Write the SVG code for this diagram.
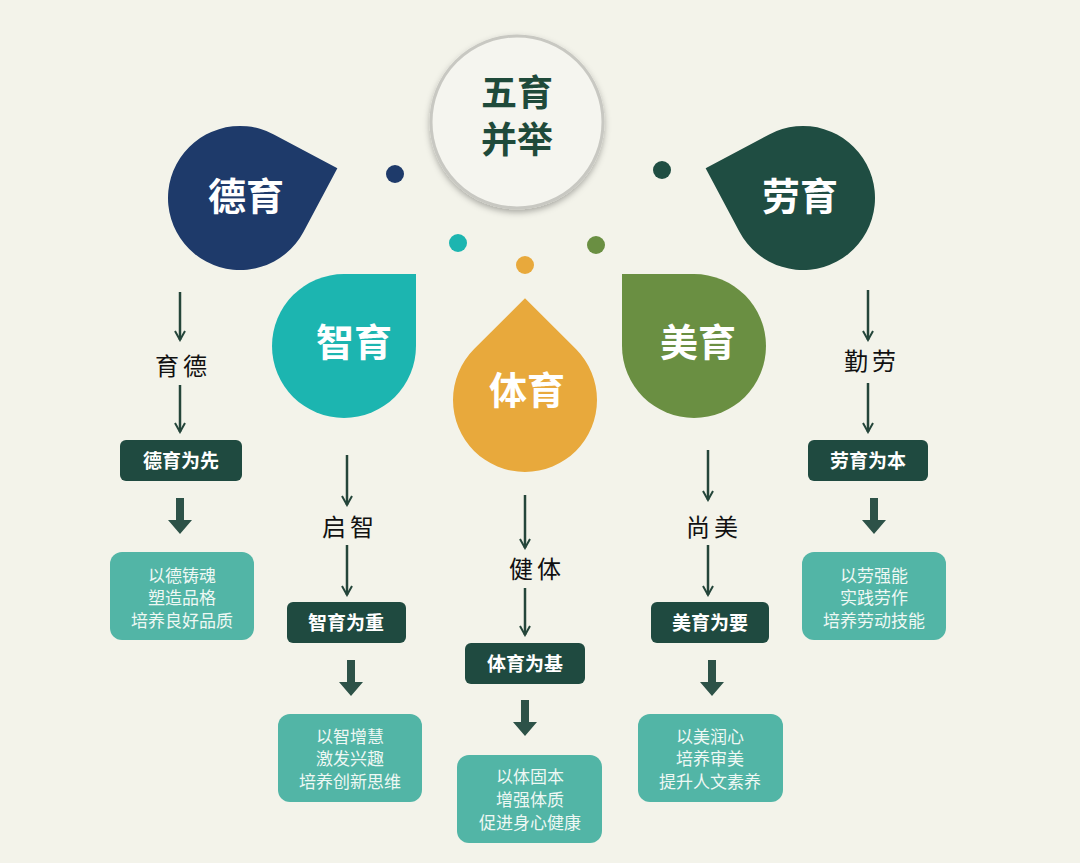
<svg xmlns="http://www.w3.org/2000/svg" width="1080" height="863" viewBox="0 0 1080 863">
<defs>
<marker id="ah" viewBox="0 0 12 12" refX="10" refY="6" markerWidth="12" markerHeight="12" markerUnits="userSpaceOnUse" orient="auto"><path d="M1,1 L10,6 L1,11" fill="none" stroke="#24453a" stroke-width="2"/></marker>
<filter id="sh" x="-20%" y="-20%" width="140%" height="140%"><feDropShadow dx="0" dy="3" stdDeviation="3" flood-color="#000" flood-opacity="0.3"/></filter>
<path id="dR" d="M0,-72 L72,-72 L72,0 A72,72 0 1 1 0,-72 Z"/>
<path id="dL" d="M0,-72 L-72,-72 L-72,0 A72,72 0 1 0 0,-72 Z"/>
</defs>
<style>
.big{font-family:"Noto Sans CJK SC",sans-serif;font-weight:bold;font-size:38px;fill:#fff;text-anchor:middle}
.hw{font-family:"Liberation Serif","Noto Sans CJK SC",serif;font-size:24px;fill:#111;text-anchor:middle;letter-spacing:4px}
.lbl{fill:#1f4a40}
.lt{font-family:"Noto Sans CJK SC",sans-serif;font-weight:bold;font-size:19px;fill:#fff;text-anchor:middle}
.bx{fill:#52b5a6}
.bt{font-family:"Noto Sans CJK SC",sans-serif;font-size:17px;fill:#eef8f4;text-anchor:middle}
.ln{stroke:#24453a;stroke-width:2.5;marker-end:url(#ah)}
.th{fill:#2d5248}
</style>
<rect width="1080" height="863" fill="#f3f3ea"/>
<g id="center">
<circle cx="517" cy="122" r="86" fill="#f5f5ef" stroke="#c8c8c2" stroke-width="3" filter="url(#sh)"/>
<text x="517" y="106" font-family="Noto Sans CJK SC,sans-serif" font-weight="bold" font-size="36" fill="#1f4a3a" text-anchor="middle">五育</text>
<text x="517" y="153" font-family="Noto Sans CJK SC,sans-serif" font-weight="bold" font-size="36" fill="#1f4a3a" text-anchor="middle">并举</text>
</g>
<g id="dots">
<circle cx="395" cy="174" r="9" fill="#1e3a6a"/>
<circle cx="458" cy="243" r="9" fill="#1cb5b0"/>
<circle cx="525" cy="265" r="9" fill="#e8a93c"/>
<circle cx="596" cy="245" r="9" fill="#6a8f42"/>
<circle cx="662" cy="170" r="9" fill="#1f4d42"/>
</g>
<g id="deyu"><use href="#dR" transform="translate(240,198) rotate(28)" fill="#1e3a6a"/><text class="big" x="246" y="210">德育</text></g>
<g id="zhiyu"><use href="#dR" transform="translate(344,346)" fill="#1cb5b0"/><text class="big" x="354" y="356">智育</text></g>
<g id="tiyu"><use href="#dR" transform="translate(525,400) rotate(-45)" fill="#e8a93c"/><text class="big" x="527" y="404">体育</text></g>
<g id="meiyu"><use href="#dL" transform="translate(694,346)" fill="#6a8f42"/><text class="big" x="698" y="356">美育</text></g>
<g id="laoyu"><use href="#dL" transform="translate(803,198) rotate(-28)" fill="#1f4d42"/><text class="big" x="800" y="210">劳育</text></g>

<g id="connectors">
<line class="ln" x1="180" y1="292" x2="180" y2="340"/><line class="ln" x1="180" y1="385" x2="180" y2="432"/>
<line class="ln" x1="347" y1="455" x2="347" y2="505"/><line class="ln" x1="347" y1="545" x2="347" y2="595"/>
<line class="ln" x1="525" y1="495" x2="525" y2="548"/><line class="ln" x1="525" y1="588" x2="525" y2="635"/>
<line class="ln" x1="708" y1="450" x2="708" y2="500"/><line class="ln" x1="708" y1="545" x2="708" y2="595"/>
<line class="ln" x1="868" y1="290" x2="868" y2="340"/><line class="ln" x1="868" y1="383" x2="868" y2="432"/>
<path class="th" d="M176,498 h8 v22 h8 l-12,14 l-12,-14 h8 Z"/>
<path class="th" d="M347,660 h8 v22 h8 l-12,14 l-12,-14 h8 Z"/>
<path class="th" d="M521,700 h8 v22 h8 l-12,14 l-12,-14 h8 Z"/>
<path class="th" d="M708,660 h8 v22 h8 l-12,14 l-12,-14 h8 Z"/>
<path class="th" d="M870,498 h8 v22 h8 l-12,14 l-12,-14 h8 Z"/>
</g>
<g id="hw">
<text class="hw" x="183" y="375">育德</text>
<text class="hw" x="350" y="536">启智</text>
<text class="hw" x="537" y="578">健体</text>
<text class="hw" x="714" y="536">尚美</text>
<text class="hw" x="872" y="370">勤劳</text>
</g>
<g id="l1"><rect class="lbl" x="120" y="440" width="122" height="41" rx="6"/><text class="lt" x="181" y="468">德育为先</text></g>
<g id="l2"><rect class="lbl" x="287" y="602" width="119" height="41" rx="6"/><text class="lt" x="346" y="630">智育为重</text></g>
<g id="l3"><rect class="lbl" x="465" y="643" width="120" height="41" rx="6"/><text class="lt" x="525" y="671">体育为基</text></g>
<g id="l4"><rect class="lbl" x="651" y="602" width="118" height="41" rx="6"/><text class="lt" x="710" y="630">美育为要</text></g>
<g id="l5"><rect class="lbl" x="808" y="440" width="120" height="41" rx="6"/><text class="lt" x="868" y="468">劳育为本</text></g>
<g id="b1"><rect class="bx" x="110" y="552" width="144" height="88" rx="12"/><text class="bt" x="182" y="582">以德铸魂</text><text class="bt" x="182" y="604">塑造品格</text><text class="bt" x="182" y="627">培养良好品质</text></g>
<g id="b2"><rect class="bx" x="278" y="714" width="144" height="88" rx="12"/><text class="bt" x="350" y="743">以智增慧</text><text class="bt" x="350" y="765">激发兴趣</text><text class="bt" x="350" y="788">培养创新思维</text></g>
<g id="b3"><rect class="bx" x="457" y="755" width="145" height="88" rx="12"/><text class="bt" x="530" y="783">以体固本</text><text class="bt" x="530" y="806">增强体质</text><text class="bt" x="530" y="829">促进身心健康</text></g>
<g id="b4"><rect class="bx" x="638" y="714" width="145" height="88" rx="12"/><text class="bt" x="710" y="743">以美润心</text><text class="bt" x="710" y="765">培养审美</text><text class="bt" x="710" y="788">提升人文素养</text></g>
<g id="b5"><rect class="bx" x="802" y="552" width="144" height="88" rx="12"/><text class="bt" x="874" y="582">以劳强能</text><text class="bt" x="874" y="604">实践劳作</text><text class="bt" x="874" y="627">培养劳动技能</text></g>
</svg>
